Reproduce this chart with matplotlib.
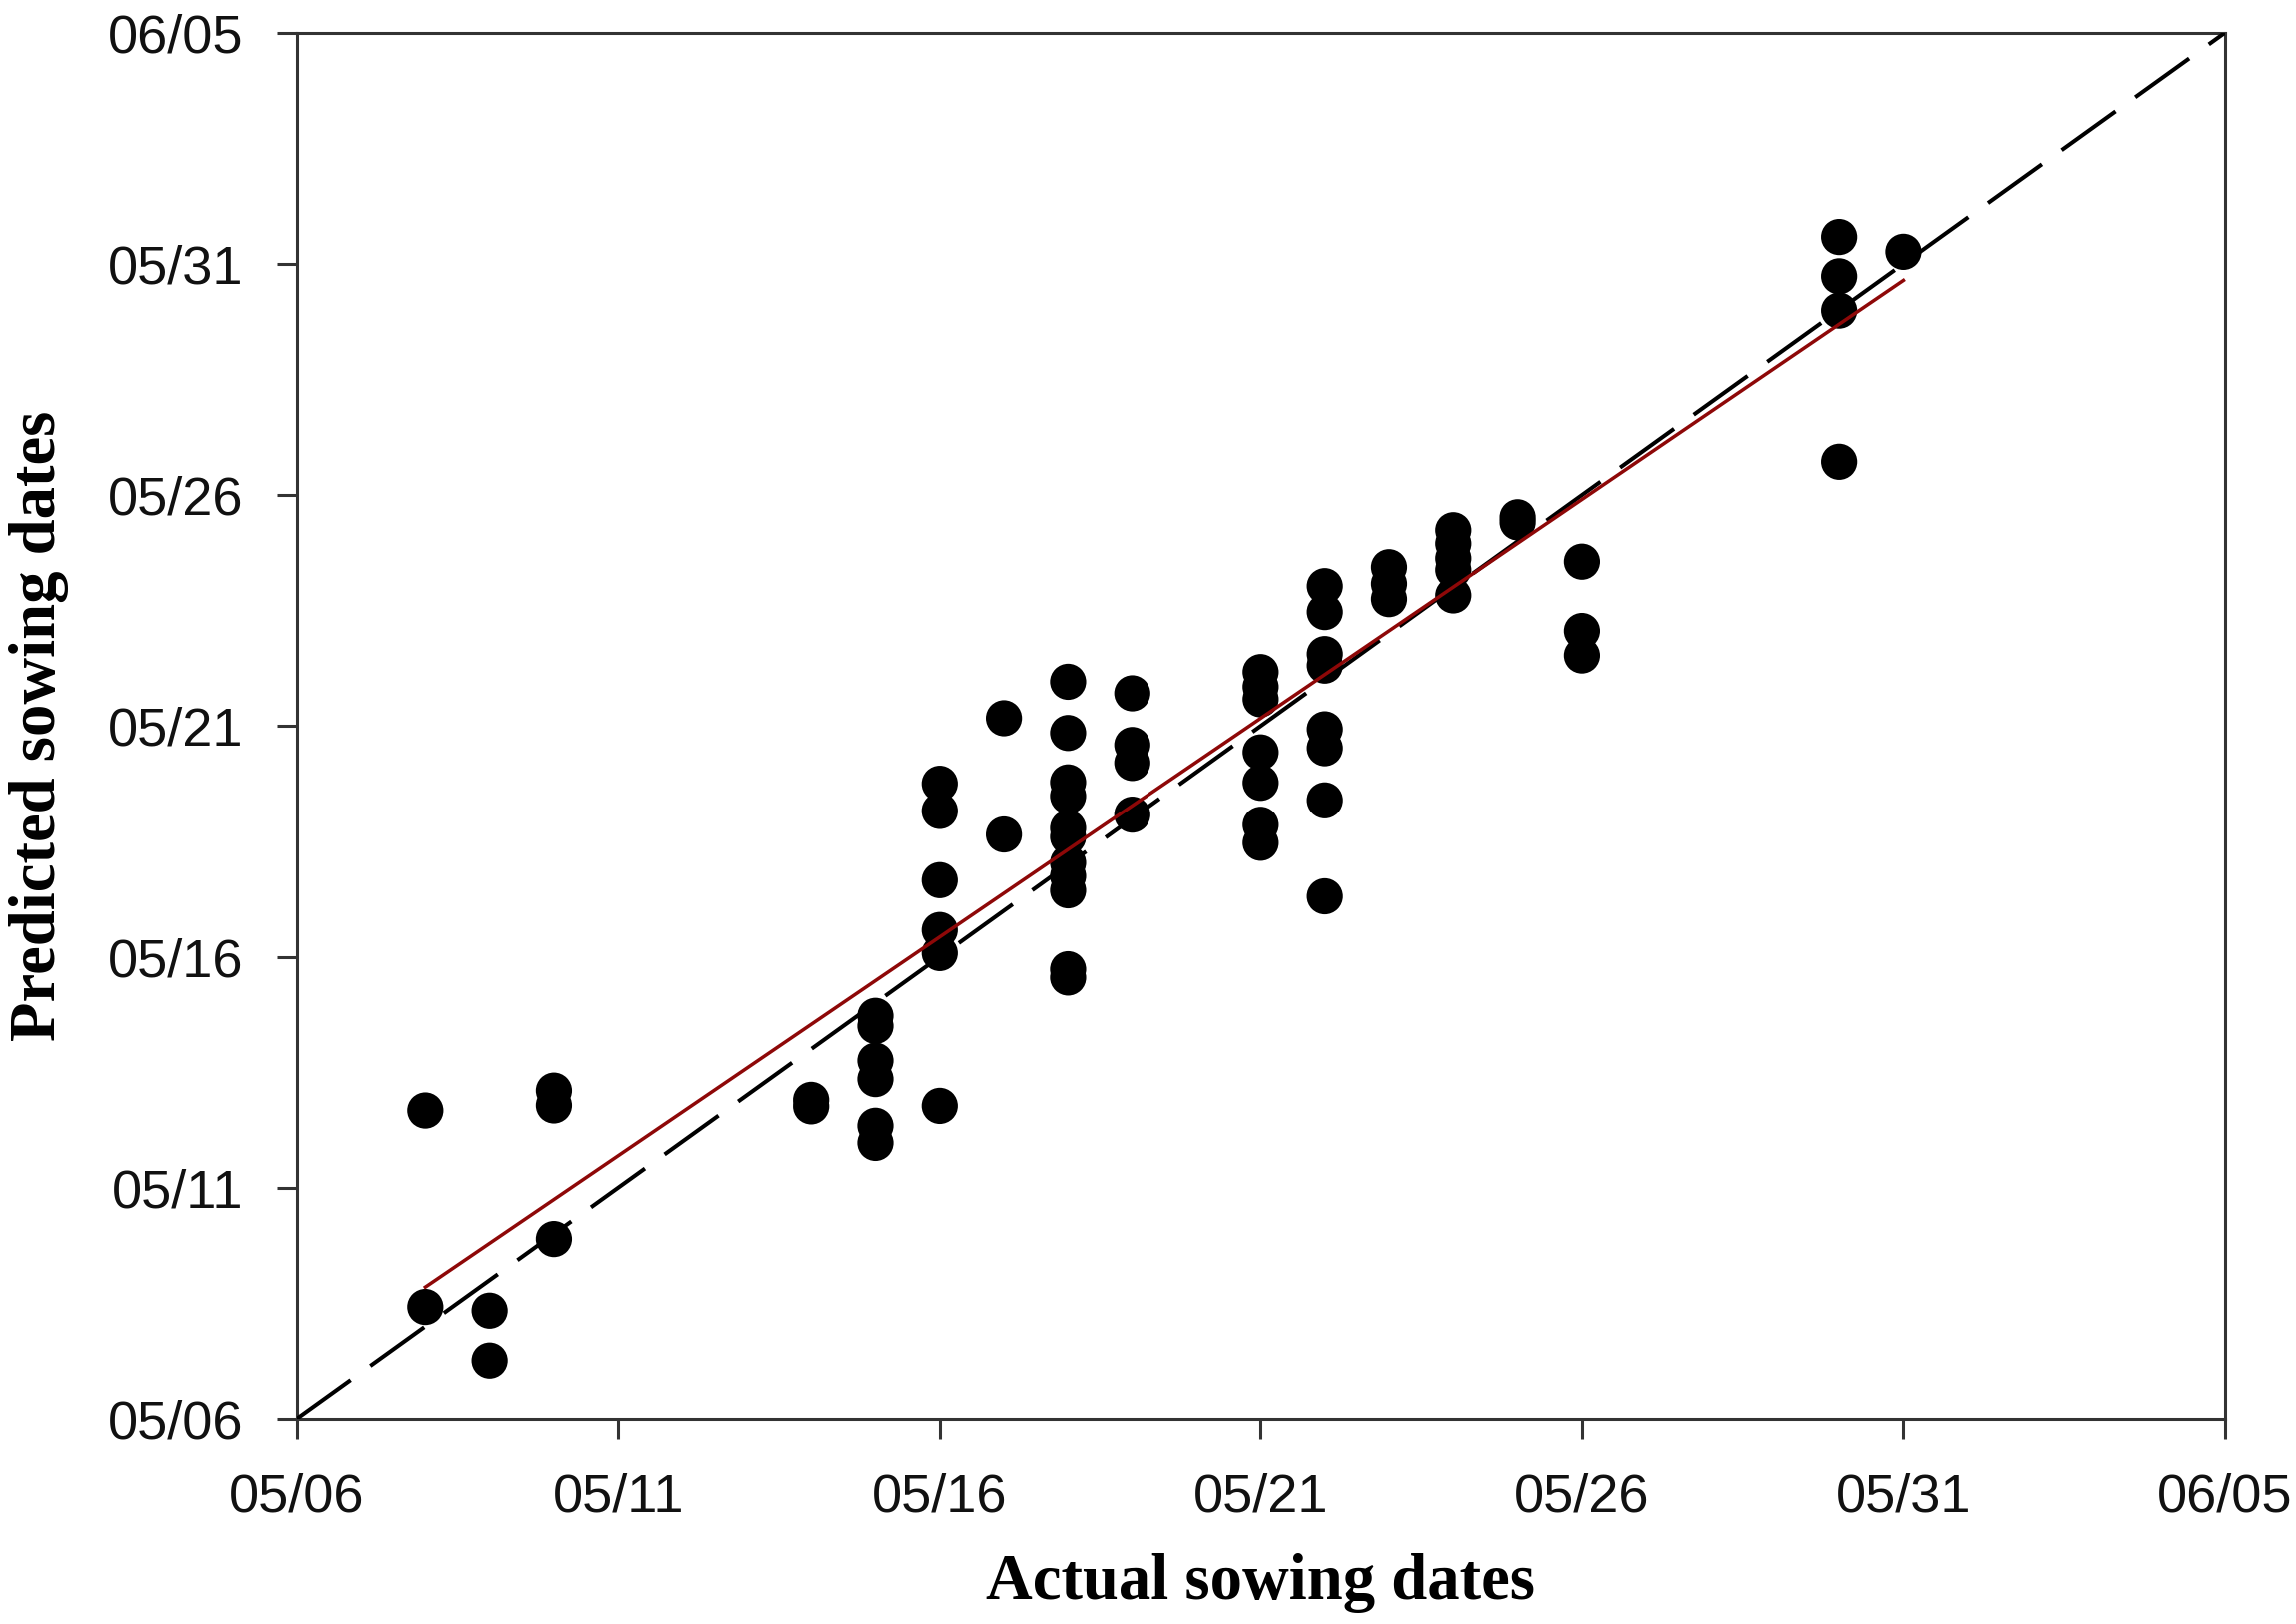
import matplotlib
matplotlib.use("Agg")
import matplotlib.pyplot as plt
import numpy as np

# Days after 05/06
tick_days = [0, 5, 10, 15, 20, 25, 30]
tick_labels = ["05/06", "05/11", "05/16", "05/21", "05/26", "05/31", "06/05"]

actual_days = (
    [2, 2]
    + [3, 3]
    + [4, 4, 4]
    + [8, 8]
    + [9, 9, 9, 9, 9, 9]
    + [10, 10, 10, 10, 10, 10]
    + [11, 11]
    + [12] * 11
    + [13, 13, 13, 13]
    + [15] * 7
    + [16] * 8
    + [17, 17, 17]
    + [18] * 5
    + [19, 19]
    + [20, 20, 20]
    + [24, 24, 24, 24]
    + [25]
)
predicted_days = (
    [6.67, 2.42]
    + [2.34, 1.26]
    + [7.10, 6.78, 3.89]
    + [6.90, 6.76]
    + [8.72, 8.50, 7.75, 7.35, 6.34, 5.97]
    + [13.75, 13.16, 11.66, 10.58, 10.08, 6.77]
    + [15.17, 12.65]
    + [15.96, 14.85, 13.78, 13.48, 12.79, 12.60, 12.04, 11.75, 11.44, 9.73, 9.55]
    + [15.71, 14.59, 14.20, 13.08]
    + [16.17, 15.85, 15.58, 14.43, 13.77, 12.86, 12.47]
    + [18.03, 17.47, 16.56, 16.31, 14.93, 14.52, 13.39, 11.31]
    + [18.44, 18.08, 17.75]
    + [19.24, 18.95, 18.63, 18.38, 17.83]
    + [19.52, 19.41]
    + [18.56, 17.06, 16.53]
    + [25.58, 24.73, 23.99, 20.72]
    + [25.26]
)

# Regression line
fit_slope = 0.9475
fit_intercept = 0.955

W, H = 2297, 1625
fig = plt.figure(figsize=(W / 100, H / 100), dpi=100)
ax = fig.add_axes([296.7 / W, 1 - 1420 / H, (2226 - 296.7) / W, (1420 - 32.7) / H])

spine_color = "#333333"

ax.scatter(actual_days, predicted_days, s=680, color="black", edgecolors="none", zorder=2)

# 1:1 line
ax.plot([0, 30], [0, 30], color="black", lw=2.9, ls=(0, (16.5, 6)), zorder=3)

# fitted line
xf = np.array([min(actual_days), max(actual_days)], dtype=float)
ax.plot(xf, fit_slope * xf + fit_intercept, color="#8e0808", lw=2.5, zorder=4)

ax.set_xlim(0, 30)
ax.set_ylim(0, 30)
ax.set_xticks(tick_days)
ax.set_xticklabels(tick_labels)
ax.set_yticks(tick_days)
ax.set_yticklabels(tick_labels)

for sp in ax.spines.values():
    sp.set_color(spine_color)
    sp.set_linewidth(2.2)

ax.tick_params(axis="both", direction="out", length=14.5, width=2.2, color=spine_color,
               labelsize=39, labelcolor="#111111")
ax.tick_params(axis="x", pad=24)
ax.tick_params(axis="y", pad=24)
for lab in ax.get_xticklabels() + ax.get_yticklabels():
    lab.set_family(["Liberation Sans", "DejaVu Sans"])

ax.set_xlabel("Actual sowing dates", fontsize=46.5, fontweight="bold",
              family=["Liberation Serif", "DejaVu Serif"], labelpad=22)
ax.set_ylabel("Predicted sowing dates", fontsize=46.5, fontweight="bold",
              family=["Liberation Serif", "DejaVu Serif"], labelpad=28)

fig.savefig("out.png", dpi=100, facecolor="white")
